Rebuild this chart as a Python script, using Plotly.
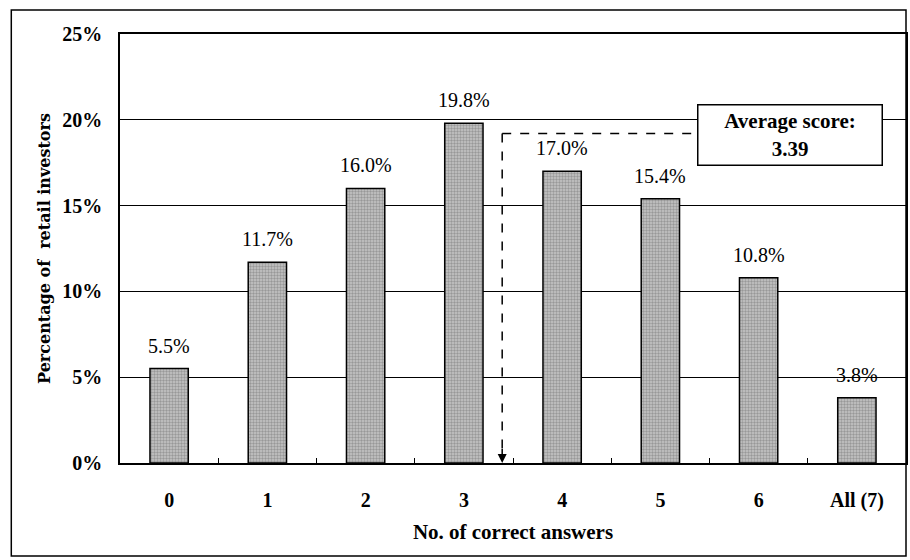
import plotly.graph_objects as go

# Distribution of retail investors by number of correct answers
categories = ["0", "1", "2", "3", "4", "5", "6", "All (7)"]
shares = [5.5, 11.7, 16.0, 19.8, 17.0, 15.4, 10.8, 3.8]
labels = ["5.5%", "11.7%", "16.0%", "19.8%", "17.0%", "15.4%", "10.8%", "3.8%"]
y_ticks = [0, 5, 10, 15, 20, 25]
y_ticktext = ["0%", "5%", "10%", "15%", "20%", "25%"]
average_score = 3.39
average_text = "Average score:<br>3.39"

SERIF = "Liberation Serif, Times New Roman, serif"

fig = go.Figure()
fig.add_trace(go.Bar(
    x=categories,
    y=shares,
    width=0.39,
    marker=dict(
        color="#b8b8b8",
        line=dict(color="black", width=1.5),
        pattern=dict(shape=".", fgcolor="#6a6a6a", bgcolor="#c6c6c6",
                     size=3, solidity=0.5),
    ),
    showlegend=False,
))

# Value labels floating above each bar
for cat, val, lab in zip(categories, shares, labels):
    fig.add_annotation(x=cat, y=val, xref="x", yref="y", text=lab,
                       showarrow=False, yanchor="bottom", yshift=10,
                       font=dict(family=SERIF, size=20, color="black"))

# Average marker: dashed elbow from the callout box down to the axis
avg_y = 19.2
fig.add_shape(type="line", x0=average_score, x1=5.36, y0=avg_y, y1=avg_y,
              xref="x", yref="y", line=dict(color="black", width=1.5, dash="dash"))
fig.add_shape(type="line", x0=average_score, x1=average_score, y0=avg_y, y1=0.5,
              xref="x", yref="y", line=dict(color="black", width=1.5, dash="dash"))
fig.add_annotation(x=average_score, y=0, ax=average_score, ay=0.9,
                   xref="x", yref="y", axref="x", ayref="y",
                   text="", showarrow=True, arrowhead=2, arrowsize=1.2,
                   arrowwidth=1.5, arrowcolor="black")

# Callout box with the average score
fig.add_annotation(x=6.32, y=19.14, xref="x", yref="y",
                   text=average_text, showarrow=False,
                   font=dict(family=SERIF, size=21, color="black", weight="bold"),
                   align="center", bgcolor="white", bordercolor="black",
                   borderwidth=1.5, width=181, height=57)

# Outer frame around the whole chart
fig.add_shape(type="rect", xref="paper", yref="paper",
              x0=-0.1383, x1=1.0, y0=-0.2168, y1=1.056,
              line=dict(color="black", width=1.5), layer="below")

fig.update_layout(
    width=910, height=560,
    margin=dict(l=120, r=2, t=34, b=97),
    paper_bgcolor="white", plot_bgcolor="white",
    font=dict(family=SERIF, color="black"),
    bargap=0.6,
)
fig.update_xaxes(
    type="category",
    range=[-0.5, 7.5],
    tickson="boundaries",
    ticks="inside", ticklen=5, tickcolor="black", tickwidth=1,
    tickfont=dict(family=SERIF, size=20, color="black", weight="bold"),
    ticklabelstandoff=18,
    showline=True, linecolor="black", linewidth=1.5, mirror=True,
    showgrid=False,
    title=dict(text="No. of correct answers", standoff=14,
               font=dict(family=SERIF, size=21, color="black", weight="bold")),
)
fig.update_yaxes(
    range=[0, 25],
    tickvals=y_ticks, ticktext=y_ticktext,
    ticks="",
    tickfont=dict(family=SERIF, size=20, color="black", weight="bold"),
    ticklabelstandoff=12,
    showline=True, linecolor="black", linewidth=1.5, mirror=True,
    showgrid=True, gridcolor="black", gridwidth=1,
    zeroline=False,
    title=dict(text="Percentage of  retail investors", standoff=8,
               font=dict(family="DejaVu Serif, serif", size=16, color="black",
                         weight="bold")),
)

fig.write_html("out.html")
